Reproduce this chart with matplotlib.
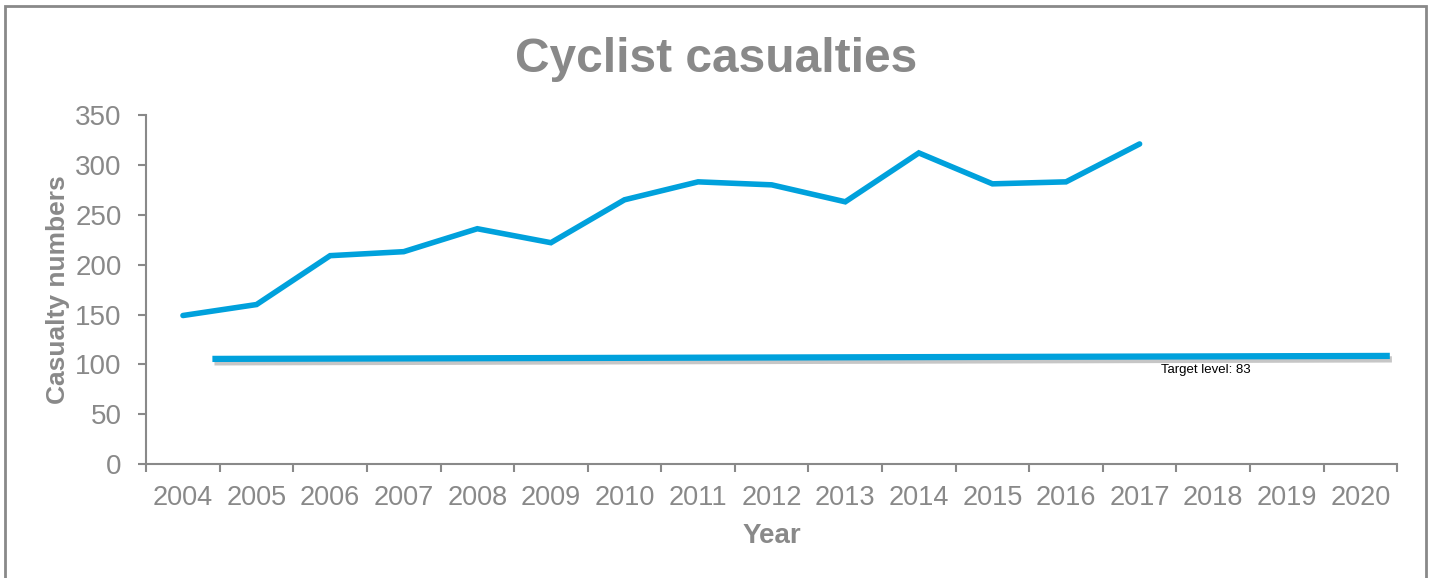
import matplotlib.pyplot as plt
import matplotlib.patheffects as pe
from matplotlib.patches import Rectangle

plt.rcParams['font.family'] = ['Liberation Sans', 'DejaVu Sans']

years = ['2004', '2005', '2006', '2007', '2008', '2009', '2010', '2011', '2012',
         '2013', '2014', '2015', '2016', '2017', '2018', '2019', '2020']
casualties = [149, 160, 209, 213, 236, 222, 265, 283, 280, 263, 312, 281, 283, 321]
target_x = [0.4, 16.4]
target_y = [105.5, 108.5]
target_label = 'Target level: 83'

grey = '#898989'
blue = '#00A1DC'

fig = plt.figure(figsize=(14.33, 5.78), dpi=100)
ax = fig.add_axes([0.102, 0.197, 0.873, 0.604])

ax.plot(range(len(casualties)), casualties, color=blue, linewidth=4,
        solid_capstyle='round', solid_joinstyle='miter')
ax.plot(target_x, target_y, color=blue, linewidth=4.5, solid_capstyle='butt',
        path_effects=[pe.SimpleLineShadow(offset=(1.5, -2.5), alpha=0.3, shadow_color='#444444'),
                      pe.Normal()])
ax.text(13.9, 94, target_label, fontsize=9.5, color='black', ha='center', va='center')

ax.set_xlim(-0.5, len(years) - 0.5)
ax.set_ylim(0, 350)
ax.set_xticks([i - 0.5 for i in range(len(years) + 1)])
ax.set_xticklabels([])
ax.set_xticks(range(len(years)), minor=True)
ax.set_xticklabels(years, minor=True)
ax.tick_params(axis='x', which='major', length=5.5, width=1.5, color=grey, direction='out')
ax.tick_params(axis='x', which='minor', length=0, pad=15, labelsize=19.5, labelcolor=grey)
ax.set_yticks(range(0, 351, 50))
ax.tick_params(axis='y', length=5.5, width=1.5, color=grey, labelsize=20, labelcolor=grey, pad=12)

for side in ['top', 'right']:
    ax.spines[side].set_visible(False)
for side in ['left', 'bottom']:
    ax.spines[side].set_color(grey)
    ax.spines[side].set_linewidth(1.5)

ax.set_xlabel('Year', fontsize=20, fontweight='bold', color=grey, labelpad=9)
ax.set_ylabel('Casualty numbers', fontsize=19, fontweight='bold', color=grey, labelpad=4)
fig.text(0.5, 0.897, 'Cyclist casualties', fontsize=34.5, fontweight='bold', color=grey,
         ha='center', va='center')

fig.patches.append(Rectangle((5 / 1433, -0.1), 1421 / 1433, 1.1 - 6 / 578,
                             transform=fig.transFigure, fill=False,
                             edgecolor=grey, linewidth=2))

fig.savefig('out.png', dpi=100)
